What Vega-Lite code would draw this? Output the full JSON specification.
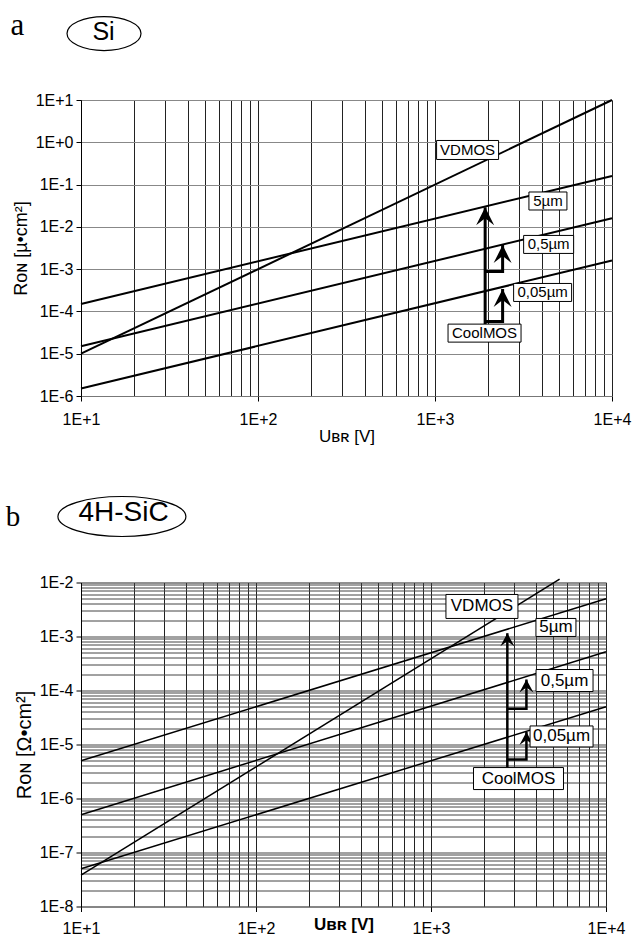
{
  "$schema": "https://vega.github.io/schema/vega-lite/v6.json",
  "background": "white",
  "padding": {"left": 5, "top": 9, "right": 5, "bottom": 0},
  "bounds": "flush",
  "spacing": 186.5,
  "config": {
    "view": {"stroke": "#777", "strokeDash": [1, 1], "strokeWidth": 1},
    "font": "Liberation Sans",
    "axis": {"labelFont": "Liberation Sans", "titleFont": "Liberation Sans", "labelColor": "black", "titleColor": "black", "tickColor": "black", "labelOverlap": false, "labelFlush": false}
  },
  "resolve": {"scale": {"x": "independent", "y": "independent", "shape": "independent"}},
  "datasets": {
    "si_lines": [
      {"curve": "VDMOS", "U": 10, "R": 1e-5}, {"curve": "VDMOS", "U": 10000, "R": 10},
      {"curve": "5µm", "U": 10, "R": 1.5e-4}, {"curve": "5µm", "U": 10000, "R": 0.16},
      {"curve": "0,5µm", "U": 10, "R": 1.5e-5}, {"curve": "0,5µm", "U": 10000, "R": 0.016},
      {"curve": "0,05µm", "U": 10, "R": 1.5e-6}, {"curve": "0,05µm", "U": 10000, "R": 1.6e-3}
    ],
    "si_arrows": [
      {"path": "main", "o": 0, "U": 1920, "R": 5e-5}, {"path": "main", "o": 1, "U": 1920, "R": 0.029},
      {"path": "b1", "o": 0, "U": 1920, "R": 5.8e-5}, {"path": "b1", "o": 1, "U": 2410, "R": 5.8e-5}, {"path": "b1", "o": 2, "U": 2410, "R": 3.4e-4},
      {"path": "b2", "o": 0, "U": 1920, "R": 8.8e-4}, {"path": "b2", "o": 1, "U": 2410, "R": 8.8e-4}, {"path": "b2", "o": 2, "U": 2410, "R": 3.7e-3}
    ],
    "si_heads": [
      {"U": 1920, "R": 0.029}, {"U": 2410, "R": 3.4e-4}, {"U": 2410, "R": 3.7e-3}
    ],
    "si_labels": [
      {"label": "VDMOS", "U": 1528, "R": 0.658},
      {"label": "5µm", "U": 4345, "R": 0.0409},
      {"label": "0,5µm", "U": 4385, "R": 3.84e-3},
      {"label": "0,05µm", "U": 4055, "R": 2.81e-4},
      {"label": "CoolMOS", "U": 1905, "R": 3.07e-5}
    ],
    "si_title": [
      {"kind": "letter", "text": "a", "U": 4.375, "R": 344},
      {"kind": "name", "text": "Si", "U": 13.4, "R": 265},
      {"kind": "ellipse", "text": "", "U": 13.49, "R": 373}
    ],
    "sic_lines": [
      {"curve": "VDMOS", "U": 10, "R": 3.8e-8}, {"curve": "VDMOS", "U": 5430, "R": 0.0115},
      {"curve": "5µm", "U": 10, "R": 5e-6}, {"curve": "5µm", "U": 10000, "R": 5e-3},
      {"curve": "0,5µm", "U": 10, "R": 5e-7}, {"curve": "0,5µm", "U": 10000, "R": 5.2e-4},
      {"curve": "0,05µm", "U": 10, "R": 5e-8}, {"curve": "0,05µm", "U": 10000, "R": 5e-5}
    ],
    "sic_arrows": [
      {"path": "main", "o": 0, "U": 2730, "R": 3.8e-6}, {"path": "main", "o": 1, "U": 2730, "R": 1.15e-3},
      {"path": "b1", "o": 0, "U": 2730, "R": 4.6e-5}, {"path": "b1", "o": 1, "U": 3510, "R": 4.6e-5}, {"path": "b1", "o": 2, "U": 3510, "R": 1.6e-4},
      {"path": "b2", "o": 0, "U": 2730, "R": 5.3e-6}, {"path": "b2", "o": 1, "U": 3510, "R": 5.3e-6}, {"path": "b2", "o": 2, "U": 3510, "R": 1.7e-5}
    ],
    "sic_heads": [
      {"U": 2730, "R": 1.15e-3}, {"U": 3510, "R": 1.6e-4}, {"U": 3510, "R": 1.7e-5}
    ],
    "sic_labels": [
      {"label": "VDMOS", "U": 1955, "R": 3.6e-3},
      {"label": "5µm", "U": 5176, "R": 1.47e-3},
      {"label": "0,5µm", "U": 5795, "R": 1.53e-4},
      {"label": "0,05µm", "U": 5572, "R": 1.41e-5},
      {"label": "CoolMOS", "U": 3162, "R": 2.34e-6}
    ],
    "sic_title": [
      {"kind": "letter", "text": "b", "U": 4.09, "R": 0.109},
      {"kind": "name", "text": "4H-SiC", "U": 17.5, "R": 0.139},
      {"kind": "ellipse", "text": "", "U": 17.13, "R": 0.1668}
    ]
  },
  "vconcat": [
    {
      "width": 531,
      "height": 296,
      "encoding": {
        "x": {
          "field": "U", "type": "quantitative",
          "scale": {"type": "log", "domain": [10, 10000], "nice": false},
          "axis": {
            "title": "Uʙʀ [V]",
            "values": [10, 20, 30, 40, 50, 60, 70, 80, 90, 100, 200, 300, 400, 500, 600, 700, 800, 900, 1000, 2000, 3000, 4000, 5000, 6000, 7000, 8000, 9000, 10000],
            "labelExpr": "abs(log(datum.value)/LN10 - round(log(datum.value)/LN10)) < 0.01 ? '1E+' + round(log(datum.value)/LN10) : ''",
            "grid": true, "gridColor": "#222", "gridWidth": 1,
            "tickSize": {"condition": {"test": "abs(log(datum.value)/LN10 - round(log(datum.value)/LN10)) < 0.01", "value": 5}, "value": 0},
            "domainColor": "#666", "domainDash": [1, 1],
            "labelFontSize": 16, "labelPadding": 10,
            "titleFontSize": 17, "titleFontWeight": "normal", "titlePadding": 1
          }
        },
        "y": {
          "field": "R", "type": "quantitative",
          "scale": {"type": "log", "domain": [1e-6, 10], "nice": false},
          "axis": {
            "title": "Rᴏɴ  [µ•cm²]",
            "values": [1e-6, 1e-5, 1e-4, 1e-3, 1e-2, 1e-1, 1, 10],
            "labelExpr": "'1E' + (datum.value >= 0.999 ? '+' : '-') + abs(round(log(datum.value)/LN10))",
            "grid": true, "gridColor": "#888", "gridWidth": 1,
            "tickSize": 5, "domainColor": "black",
            "labelFontSize": 16, "labelPadding": 3,
            "titleFontSize": 18, "titleFontWeight": "normal", "titlePadding": 5
          }
        }
      },
      "layer": [
        {"data": {"name": "si_lines"}, "mark": {"type": "line", "color": "black", "strokeWidth": 2}, "encoding": {"detail": {"field": "curve"}}},
        {"data": {"name": "si_arrows"}, "mark": {"type": "line", "color": "black", "strokeWidth": 3, "strokeJoin": "miter", "strokeCap": "butt"}, "encoding": {"detail": {"field": "path"}, "order": {"field": "o", "type": "quantitative"}}},
        {"data": {"name": "si_heads"}, "mark": {"type": "point", "shape": "M0,0L9,18L0,11L-9,18Z", "size": 4, "filled": true, "color": "black", "opacity": 1, "strokeWidth": 0}},
        {"data": {"name": "si_labels"}, "mark": {"type": "point", "size": 4, "filled": true, "fill": "white", "stroke": "black", "strokeWidth": 1, "opacity": 1},
          "encoding": {"shape": {"field": "label", "type": "nominal", "legend": null,
            "scale": {"domain": ["VDMOS", "5µm", "0,5µm", "0,05µm", "CoolMOS"],
              "range": ["M-31,-9.5H31V9.5H-31Z", "M-19,-9H19V9H-19Z", "M-25,-9H25V9H-25Z", "M-29,-9H29V9H-29Z", "M-36.5,-9H36.5V9H-36.5Z"]}}}},
        {"data": {"name": "si_labels"}, "mark": {"type": "text", "fontSize": 15, "font": "Liberation Sans", "color": "black", "baseline": "middle", "align": "center"}, "encoding": {"text": {"field": "label"}}},
        {"data": {"name": "si_title"}, "transform": [{"filter": "datum.kind == 'ellipse'"}], "mark": {"type": "point", "shape": "M-37,0A37,17 0 1,1 37,0A37,17 0 1,1 -37,0Z", "size": 4, "filled": false, "stroke": "black", "strokeWidth": 1.2, "opacity": 1}},
        {"data": {"name": "si_title"}, "transform": [{"filter": "datum.kind == 'name'"}], "mark": {"type": "text", "fontSize": 25, "font": "Liberation Sans", "color": "black", "baseline": "alphabetic", "align": "center"}, "encoding": {"text": {"field": "text"}}},
        {"data": {"name": "si_title"}, "transform": [{"filter": "datum.kind == 'letter'"}], "mark": {"type": "text", "fontSize": 31, "font": "Liberation Serif", "color": "black", "baseline": "alphabetic", "align": "center"}, "encoding": {"text": {"field": "text"}}}
      ]
    },
    {
      "width": 525,
      "height": 324,
      "encoding": {
        "x": {
          "field": "U", "type": "quantitative",
          "scale": {"type": "log", "domain": [10, 10000], "nice": false},
          "axis": {
            "title": "Uʙʀ [V]",
            "values": [10, 20, 30, 40, 50, 60, 70, 80, 90, 100, 200, 300, 400, 500, 600, 700, 800, 900, 1000, 2000, 3000, 4000, 5000, 6000, 7000, 8000, 9000, 10000],
            "labelExpr": "abs(log(datum.value)/LN10 - round(log(datum.value)/LN10)) < 0.01 ? '1E+' + round(log(datum.value)/LN10) : ''",
            "grid": true, "gridColor": "#222", "gridWidth": 1,
            "tickSize": {"condition": {"test": "abs(log(datum.value)/LN10 - round(log(datum.value)/LN10)) < 0.01", "value": 5}, "value": 0},
            "domainColor": "#666", "domainDash": [1, 1],
            "labelFontSize": 16, "labelPadding": 9,
            "titleFontSize": 17, "titleFontWeight": "bold", "titleBaseline": "top", "titleY": 10
          }
        },
        "y": {
          "field": "R", "type": "quantitative",
          "scale": {"type": "log", "domain": [1e-8, 0.01], "nice": false},
          "axis": {
            "title": "Rᴏɴ  [Ω•cm²]",
            "values": [1e-8, 2e-8, 3e-8, 4e-8, 5e-8, 6e-8, 7e-8, 8e-8, 9e-8, 1e-7, 2e-7, 3e-7, 4e-7, 5e-7, 6e-7, 7e-7, 8e-7, 9e-7, 1e-6, 2e-6, 3e-6, 4e-6, 5e-6, 6e-6, 7e-6, 8e-6, 9e-6, 1e-5, 2e-5, 3e-5, 4e-5, 5e-5, 6e-5, 7e-5, 8e-5, 9e-5, 1e-4, 2e-4, 3e-4, 4e-4, 5e-4, 6e-4, 7e-4, 8e-4, 9e-4, 1e-3, 2e-3, 3e-3, 4e-3, 5e-3, 6e-3, 7e-3, 8e-3, 9e-3, 1e-2],
            "labelExpr": "abs(log(datum.value)/LN10 - round(log(datum.value)/LN10)) < 0.01 ? '1E' + (datum.value >= 0.999 ? '+' : '-') + abs(round(log(datum.value)/LN10)) : ''",
            "grid": true, "gridColor": "#444", "gridWidth": 1,
            "tickSize": {"condition": {"test": "abs(log(datum.value)/LN10 - round(log(datum.value)/LN10)) < 0.01", "value": 5}, "value": 0},
            "domainColor": "black",
            "labelFontSize": 16, "labelPadding": 3,
            "titleFontSize": 20, "titleFontWeight": "normal", "titlePadding": 5
          }
        }
      },
      "layer": [
        {"data": {"name": "sic_lines"}, "mark": {"type": "line", "color": "black", "strokeWidth": 1.5}, "encoding": {"detail": {"field": "curve"}}},
        {"data": {"name": "sic_arrows"}, "mark": {"type": "line", "color": "black", "strokeWidth": 2.5, "strokeJoin": "miter", "strokeCap": "butt"}, "encoding": {"detail": {"field": "path"}, "order": {"field": "o", "type": "quantitative"}}},
        {"data": {"name": "sic_heads"}, "mark": {"type": "point", "shape": "M0,0L7,13L0,8L-7,13Z", "size": 4, "filled": true, "color": "black", "opacity": 1, "strokeWidth": 0}},
        {"data": {"name": "sic_labels"}, "mark": {"type": "point", "size": 4, "filled": true, "fill": "white", "stroke": "black", "strokeWidth": 1, "opacity": 1},
          "encoding": {"shape": {"field": "label", "type": "nominal", "legend": null,
            "scale": {"domain": ["VDMOS", "5µm", "0,5µm", "0,05µm", "CoolMOS"],
              "range": ["M-36,-12H36V12H-36Z", "M-20,-9H20V9H-20Z", "M-28.5,-11H28.5V11H-28.5Z", "M-31.5,-10.5H31.5V10.5H-31.5Z", "M-45,-11H45V11H-45Z"]}}}},
        {"data": {"name": "sic_labels"}, "mark": {"type": "text", "fontSize": 17, "font": "Liberation Sans", "color": "black", "baseline": "middle", "align": "center"}, "encoding": {"text": {"field": "label"}}},
        {"data": {"name": "sic_title"}, "transform": [{"filter": "datum.kind == 'ellipse'"}], "mark": {"type": "point", "shape": "M-64,0A64,20 0 1,1 64,0A64,20 0 1,1 -64,0Z", "size": 4, "filled": false, "stroke": "black", "strokeWidth": 1.2, "opacity": 1}},
        {"data": {"name": "sic_title"}, "transform": [{"filter": "datum.kind == 'name'"}], "mark": {"type": "text", "fontSize": 28, "font": "Liberation Sans", "color": "black", "baseline": "alphabetic", "align": "center"}, "encoding": {"text": {"field": "text"}}},
        {"data": {"name": "sic_title"}, "transform": [{"filter": "datum.kind == 'letter'"}], "mark": {"type": "text", "fontSize": 29, "font": "Liberation Serif", "color": "black", "baseline": "alphabetic", "align": "center"}, "encoding": {"text": {"field": "text"}}}
      ]
    }
  ]
}
